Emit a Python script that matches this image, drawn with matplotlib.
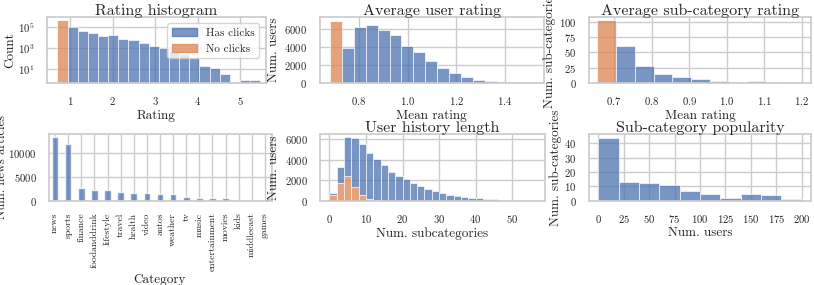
import numpy as np
import matplotlib
matplotlib.use("Agg")
import matplotlib.pyplot as plt
import seaborn as sns
from matplotlib.patches import Patch

sns.set_theme(style="whitegrid")
plt.rcParams['font.family'] = ['cmr10', 'DejaVu Serif']
plt.rcParams['mathtext.fontset'] = 'cm'
plt.rcParams['axes.formatter.use_mathtext'] = True
plt.rcParams['axes.unicode_minus'] = False

BLUE = "#4C72B0"
ORANGE = "#DD8452"
ALPHA = 0.75

# ---- data ----
# rating histogram (log counts), 20 bins from 0.70 to 5.466
rating_start, rating_width, rating_nbins = 0.70, 0.2383, 20
rating_noclick = [5.0e5] + [0] * 19
rating_click = [0, 1.15e5, 4.8e4, 2.7e4, 1.5e4, 1.7e4, 7.8e3, 6.2e3, 3.4e3, 1.7e3,
                1.15e3, 520, 280, 127, 22, 15, 3.5, 0, 1, 1]

# average user rating, 17 bins
user_start, user_width, user_nbins = 0.68, 0.049, 17
user_noclick = [6900] + [0] * 16
user_click = [0, 3960, 6300, 6480, 5960, 5400, 4150, 3440, 2480, 1630, 1070, 630,
              330, 185, 110, 40, 15]

# average sub-category rating, 10 bins
sub_start, sub_width, sub_nbins = 0.655, 0.05, 10
sub_noclick = [102] + [0] * 9
sub_click = [0, 61, 28, 14, 9, 7, 4, 2, 3, 2]

# news articles per category
categories = ["news", "sports", "finance", "foodanddrink", "lifestyle", "travel",
              "health", "video", "autos", "weather", "tv", "music", "entertainment",
              "movies", "kids", "middleeast", "games"]
cat_counts = [13190, 11800, 2570, 2220, 2150, 1800, 1670, 1600, 1460, 1460, 760,
              560, 490, 490, 15, 5, 2]

# user history length (num. subcategories), stacked, bins of width 2 from 0
hist_start, hist_width, hist_nbins = 0, 2, 28
hist_noclick = [550, 1700, 2410, 1370, 550, 200, 60] + [0] * 21
hist_click = [230, 1630, 3790, 4730, 4960, 4430, 3980, 3490, 2840, 2450, 2090, 1700,
              1400, 1110, 950, 720, 590, 455, 390, 290, 230, 160, 130, 100, 65, 40,
              25, 10]

# sub-category popularity, bins of width 20
pop_start, pop_width, pop_nbins = 0, 20, 10
pop_counts = [44, 13, 12, 11, 7, 5, 2, 5, 4, 1]


def edges(start, width, n):
    return start + width * np.arange(n + 1)


def hist(ax, start, width, n, series, colors):
    e = edges(start, width, n)
    centers = e[:-1] + width / 2
    ax.hist([centers] * len(series), bins=e, weights=series, stacked=True,
            color=colors, alpha=ALPHA, edgecolor="white", linewidth=0.6)


W, H = 814, 285
fig = plt.figure(figsize=(8.14, 2.85), dpi=100)


def rect(x0, y0, x1, y1):
    return [x0 / W, 1 - y1 / H, (x1 - x0) / W, (y1 - y0) / H]


TS, LS, KS = 11.5, 9.5, 7.7

ax1 = fig.add_axes(rect(47, 16.7, 266, 83))
ax2 = fig.add_axes(rect(319.5, 16.7, 544, 83))
ax3 = fig.add_axes(rect(589, 16.7, 811, 83))
ax4 = fig.add_axes(rect(48.5, 134, 271.5, 200.7))
ax5 = fig.add_axes(rect(320, 134, 545, 200.7))
ax6 = fig.add_axes(rect(589, 134, 811, 200.7))

# rating histogram
hist(ax1, rating_start, rating_width, rating_nbins, [rating_noclick, rating_click], [ORANGE, BLUE])
ax1.set_yscale("log")
ax1.set_ylim(0.52, 1e6)
ax1.set_yticks([1e1, 1e3, 1e5])
ax1.yaxis.set_minor_locator(matplotlib.ticker.NullLocator())
ax1.set_xlim(0.454, 5.6)
ax1.set_xticks([1, 2, 3, 4, 5])
ax1.set_title("Rating histogram", fontsize=TS, pad=1.5)
ax1.set_xlabel("Rating", fontsize=LS, labelpad=2)
ax1.set_ylabel("Count", fontsize=LS, labelpad=1.5)
ax1.legend(handles=[Patch(color=BLUE, alpha=ALPHA), Patch(color=ORANGE, alpha=ALPHA)],
           labels=["Has clicks", "No clicks"], loc="upper right", fontsize=8,
           borderaxespad=0.6, handlelength=2.3, labelspacing=0.6)

# average user rating
hist(ax2, user_start, user_width, user_nbins, [user_noclick, user_click], [ORANGE, BLUE])
ax2.set_xlim(0.637, 1.56)
ax2.set_ylim(0, 7400)
ax2.set_xticks([0.8, 1.0, 1.2, 1.4])
ax2.set_yticks([0, 2000, 4000, 6000])
ax2.set_title("Average user rating", fontsize=TS, pad=1.5)
ax2.set_xlabel("Mean rating", fontsize=LS, labelpad=2)
ax2.set_ylabel("Num. users", fontsize=LS, labelpad=3)

# average sub-category rating
hist(ax3, sub_start, sub_width, sub_nbins, [sub_noclick, sub_click], [ORANGE, BLUE])
ax3.set_xlim(0.633, 1.224)
ax3.set_ylim(0, 108)
ax3.set_xticks([0.7, 0.8, 0.9, 1.0, 1.1, 1.2])
ax3.set_yticks([0, 25, 50, 75, 100])
ax3.set_title("Average sub-category rating", fontsize=TS, pad=1.5)
ax3.set_xlabel("Mean rating", fontsize=LS, labelpad=2)
ax3.set_ylabel("Num. sub-categories", fontsize=LS, labelpad=2)

# categories
pos = np.arange(len(categories))
ax4.bar(pos, cat_counts, width=0.5, color=BLUE, alpha=ALPHA)
ax4.set_xticks(pos)
ax4.set_xticklabels(categories, rotation=90, fontsize=7)
ax4.set_xlim(-0.5, len(categories) - 0.5)
ax4.set_ylim(0, 13900)
ax4.set_yticks([0, 5000, 10000])
ax4.set_xlabel("Category", fontsize=LS, labelpad=2)
ax4.set_ylabel("Num. news articles", fontsize=9, labelpad=0.5)

# user history length
hist(ax5, hist_start, hist_width, hist_nbins, [hist_noclick, hist_click], [ORANGE, BLUE])
ax5.set_xlim(-2.6, 59)
ax5.set_ylim(0, 6500)
ax5.set_xticks([0, 10, 20, 30, 40, 50])
ax5.set_yticks([0, 2000, 4000, 6000])
ax5.set_title("User history length", fontsize=TS, pad=1.5)
ax5.set_xlabel("Num. subcategories", fontsize=LS, labelpad=2)
ax5.set_ylabel("Num. users", fontsize=LS, labelpad=3)

# sub-category popularity
hist(ax6, pop_start, pop_width, pop_nbins, [pop_counts], [BLUE])
ax6.set_xlim(-9, 209)
ax6.set_ylim(0, 46.5)
ax6.set_xticks([0, 25, 50, 75, 100, 125, 150, 175, 200])
ax6.set_yticks([0, 10, 20, 30, 40])
ax6.set_title("Sub-category popularity", fontsize=TS, pad=1.5)
ax6.set_xlabel("Num. users", fontsize=LS, labelpad=2)
ax6.set_ylabel("Num. sub-categories", fontsize=LS, labelpad=2)

for ax in (ax1, ax2, ax3, ax4, ax5, ax6):
    ax.tick_params(axis="y", labelsize=KS, pad=3)
    ax.tick_params(axis="x", pad=2.5)
    if ax is not ax4:
        ax.tick_params(axis="x", labelsize=KS)
ax4.tick_params(axis="y", pad=2.5)

fig.savefig("out.png", dpi=100)
